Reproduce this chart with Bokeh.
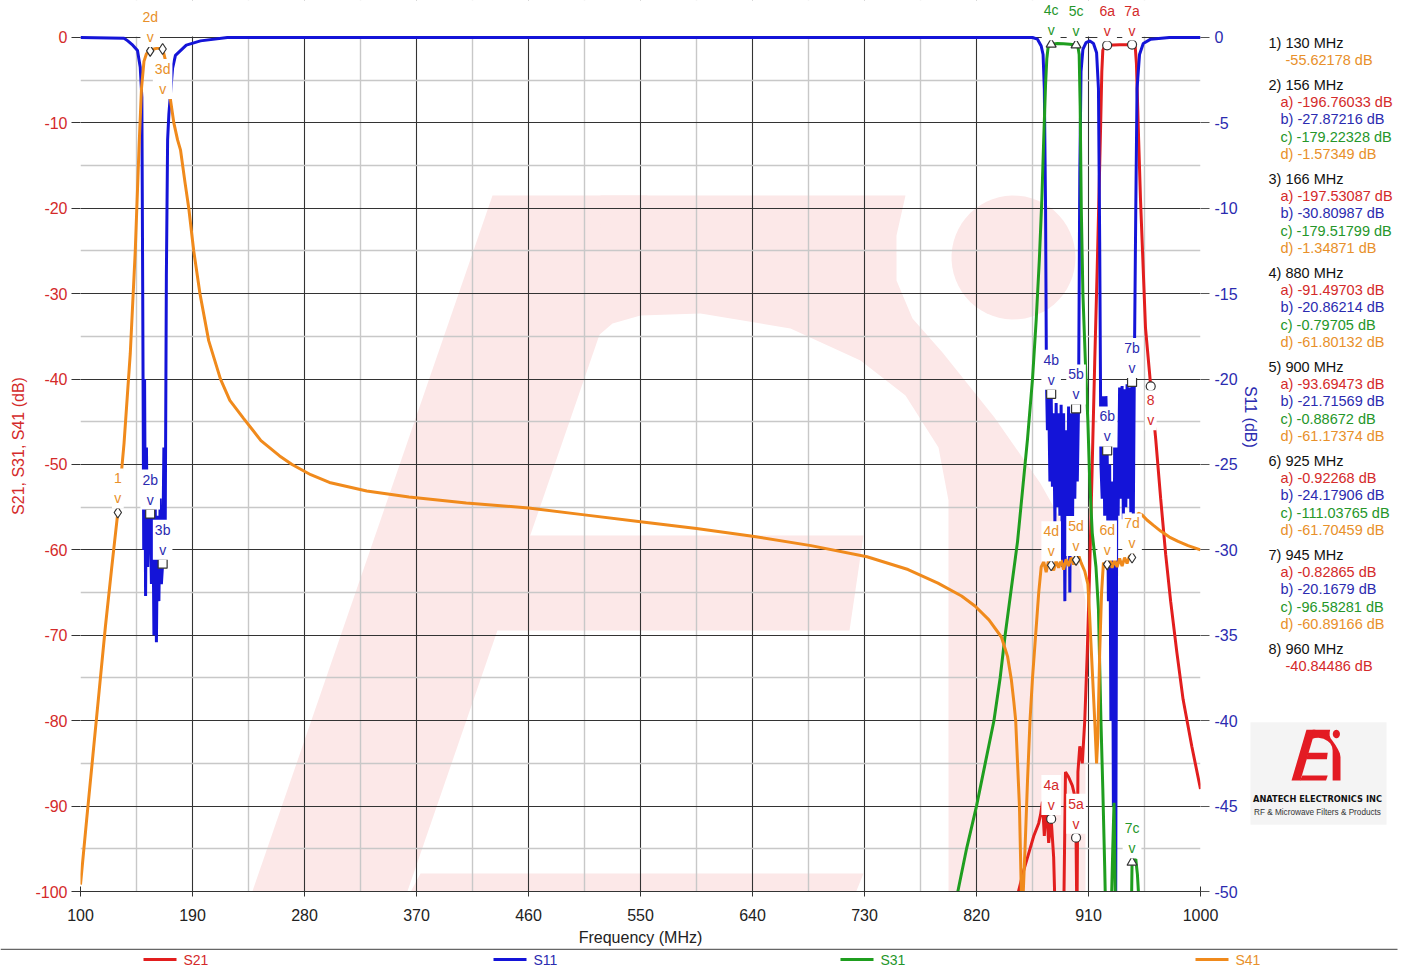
import numpy as np
from bokeh.plotting import figure
from bokeh.layouts import column, row
from bokeh.models import (Range1d, LinearAxis, FixedTicker, Label, BoxAnnotation,
                          PolyAnnotation, PrintfTickFormatter)
from bokeh.core.properties import value
from bokeh.embed import file_html
from bokeh.resources import INLINE

FONT = "Liberation Sans"
C21, C11, C31, C41 = "#e21e1e", "#1414d8", "#1f9e1f", "#f08a1c"
T21, T11, T31, T41 = "#d42a2a", "#2b2bb0", "#25962a", "#e8902a"
LINE_COL = {"S21": C21, "S11": C11, "S31": C31, "S41": C41}
TEXT_COL = {"S21": T21, "S11": T11, "S31": T31, "S41": T41}

# ---------------- data ----------------
# S41 (left axis, dB)
f41 = [100, 105, 110, 115, 120, 125, 130, 135, 140, 144, 147, 149, 151, 153, 156, 159, 162, 164, 166,
       168, 170, 172, 175, 178, 180.4, 184, 187, 191, 196, 203, 212.5, 220, 231, 245, 260, 270, 285,
       300, 330, 364, 410, 460, 505, 550, 595, 640, 687, 732, 765, 789, 808, 819, 830, 840, 845, 848,
       850, 851.5, 853, 854.5, 856, 856.8, 857.6, 859, 861, 863, 865, 867.5, 870, 872, 874, 876, 878,
       880, 882, 884, 886, 888, 890, 892, 894, 896, 898, 900, 902, 904, 907, 909.5, 911, 913, 915,
       916.5, 917.5, 919, 920.5, 922, 923.5, 925, 927, 929, 931, 933, 935, 937, 939, 941, 943, 945,
       946.5, 948, 950, 953, 957, 962, 968, 975, 982, 990, 1000]
s41 = [-99.2, -91.5, -84, -76.5, -69, -62.2, -55.6, -47.5, -37, -25, -13, -6, -2.8, -1.9, -1.57,
       -1.35, -1.25, -1.3, -1.35, -2.5, -4.5, -7, -10, -12, -13.2, -17, -20, -25, -30, -35.5, -40,
       -42.5, -44.6, -47.2, -49, -50, -51.2, -52.1, -53.1, -53.8, -54.5, -55.1, -55.9, -56.7, -57.5,
       -58.4, -59.5, -60.8, -62.3, -63.9, -65.4, -66.6, -68.2, -70.2, -72.5, -75.2, -77.8, -80, -85,
       -90, -100, -106, -100, -95, -87, -80, -75, -70, -65, -62, -61.4, -62.6, -61.2, -61.8, -62.4,
       -61.3, -62.1, -61.2, -62.3, -61.1, -61.9, -60.9, -61.7, -61.17, -60.6, -61.5, -62.5, -64, -68,
       -74, -80, -85, -82, -72, -65, -61.5, -62, -61.7, -61.0, -62.1, -61.2, -62.0, -61.0, -61.9,
       -60.9, -61.6, -60.7, -60.89, -59.5, -57, -55.7, -55.9, -56.5, -57.1, -57.8, -58.5, -59, -59.5,
       -60]

# S11 (right axis, dB)
f11 = [100, 135, 138, 142, 145.8, 148, 149.3, 150, 150.8, 151.5, 152.3, 153, 154, 155, 156, 157, 158,
       159, 160, 161, 162, 163, 164, 165, 166, 167, 168, 169, 170, 171, 172.3, 174, 176.3, 185, 196.4,
       218, 860, 865, 869, 872, 873.5, 874.5, 875.5, 876.2, 877, 878, 879, 880, 881, 882, 883, 884,
       885, 886, 887, 888, 889, 890, 891, 892, 893, 894, 895, 896, 897, 898, 899, 900, 901, 902,
       903, 904, 905.5, 908, 911, 914, 916.5, 918, 919, 920, 921, 922, 923, 924, 925, 926, 927, 928,
       929, 930, 931, 931.8, 932.8, 933.8, 935, 936, 937, 938, 939, 940, 941, 942, 943, 944, 945,
       946, 947, 948, 949, 951, 954, 960, 975, 1000]
s11 = [0, -0.05, -0.2, -0.45, -0.76, -1.75, -3.5, -15, -30, -20, -32.7, -24, -31, -26, -27.87, -32,
       -26, -35, -27, -35.4, -28, -33, -27, -32, -30.81, -24, -30, -14, -6, -4.5, -3.3, -1.8, -1.05,
       -0.45, -0.2, 0, 0, 0, -0.1, -0.5, -1, -3, -10, -20, -23, -21, -26, -20.86, -26.3, -22, -28.4,
       -21.4, -27.5, -22, -28, -21.5, -31, -22, -33, -23, -30, -21.6, -32.5, -22, -30, -21.2, -27,
       -21.72, -26, -21.5, -8, -2, -0.7, -0.3, -0.2, -0.35, -0.9, -3, -12, -25, -27, -21, -28, -21,
       -24.18, -33, -25, -40, -26, -45, -24, -52, -24, -28, -20.5, -27, -20.4, -28.2, -20.6, -27.5,
       -20.3, -27, -20.5, -27.8, -20.17, -28, -18, -10, -3, -1, -0.35, -0.1, 0, 0]

# S31 (left axis, dB)
f31 = [800, 805, 812, 820, 827, 834, 839, 843, 848, 853, 857, 861, 865, 868, 870.5, 872.5, 874, 875.5,
       876.5, 877.5, 880, 885, 890, 895, 900, 901.5, 902.5, 903.3, 904.2, 905.5, 907.5, 909.5, 911,
       913, 916, 918, 920, 921.5, 923, 924, 928, 929.5, 930.5, 931.5, 932.3, 944, 945, 948, 949.3,
       950.5, 952]
s31 = [-104, -100, -95, -90, -85, -80, -75, -70, -64.5, -59, -53, -47, -40, -33, -26, -19, -12, -5.5,
       -2.5, -1.2, -0.8, -0.72, -0.75, -0.8, -0.89, -1.1, -2, -8, -20, -30, -38, -45, -52, -58, -62,
       -67, -80, -88, -97, -104, -104, -95, -89.6, -100, -108, -108, -96.58, -96.2, -98, -101, -108]

# S21 (left axis, dB)
f21 = [850, 853.7, 858, 862, 866, 870, 871.5, 873, 874.5, 876, 878, 880, 882, 883.5, 890, 891.5, 894,
       897, 899.3, 900, 900.7, 901.5, 903, 905, 907, 909, 911, 913, 915, 917, 918.5, 919.8, 920.7,
       921.5, 923, 925, 930, 935, 940, 945, 947.5, 948.5, 949.5, 950.3, 951.8, 955.8, 960, 964, 968,
       972, 976, 981, 986, 993, 1000]
s21 = [-104, -100, -97.5, -95.5, -93.5, -92, -91, -89.5, -93.5, -89.5, -94.3, -91.5, -96, -104, -104,
       -86, -86.6, -87.6, -89, -93.69, -104, -86, -83, -85, -80, -72, -62, -50, -38, -27, -18, -10,
       -4, -1.5, -1.0, -0.92, -0.88, -0.85, -0.84, -0.83, -1.0, -3, -8, -12, -19, -34, -40.84, -47,
       -54, -60.5, -66, -72, -77.5, -83, -88]

# marker readout table
mk_ids = [1, 2, 3, 4, 5, 6, 7, 8]
mk_mhz = [130, 156, 166, 880, 900, 925, 945, 960]
read_a = [None, "-196.76033", "-197.53087", "-91.49703", "-93.69473", "-0.92268", "-0.82865", None]
read_b = [None, "-27.87216", "-30.80987", "-20.86214", "-21.71569", "-24.17906", "-20.1679", None]
read_c = [None, "-179.22328", "-179.51799", "-0.79705", "-0.88672", "-111.03765", "-96.58281", None]
read_d = [None, "-1.57349", "-1.34871", "-61.80132", "-61.17374", "-61.70459", "-60.89166", None]
read_single = ["-55.62178", None, None, None, None, None, None, "-40.84486"]
single_series = ["S41", None, None, None, None, None, None, "S21"]

# markers shown on the chart
on_names = ["1", "2b", "2d", "3b", "3d", "4a", "4b", "4c", "4d", "5a", "5b", "5c", "5d",
            "6a", "6b", "6d", "7a", "7b", "7c", "7d", "8"]
on_freq = [130, 156, 156, 166, 166, 880, 880, 880, 880, 900, 900, 900, 900,
           925, 925, 925, 945, 945, 945, 945, 960]
on_val = [-55.62178, -27.87216, -1.57349, -30.80987, -1.34871, -91.49703, -20.86214, -0.79705,
          -61.80132, -93.69473, -21.71569, -0.88672, -61.17374, -0.92268, -24.17906, -61.70459,
          -0.82865, -20.1679, -96.58281, -60.89166, -40.84486]
on_series = ["S41", "S11", "S41", "S11", "S41", "S21", "S11", "S31", "S41", "S21", "S11", "S31",
             "S41", "S21", "S11", "S41", "S21", "S11", "S31", "S41", "S21"]
labels_below = {"3d": -10, "8": -4}

legend_names = ["S21", "S11", "S31", "S41"]

x_ticks = [100, 190, 280, 370, 460, 550, 640, 730, 820, 910, 1000]
y_ticks = [-100, -90, -80, -70, -60, -50, -40, -30, -20, -10, 0]
y2_ticks = [-50, -45, -40, -35, -30, -25, -20, -15, -10, -5, 0]

# ---------------- main figure ----------------
TOP_DB = 37 / 8.55          # frame extends 37 px above the 0 dB line (room for marker tags)
MW, MH = 1241, 948
p = figure(width=MW, height=MH, x_range=Range1d(100, 1000), y_range=Range1d(-100, TOP_DB),
           output_backend="svg", toolbar_location=None,
           min_border_left=80, min_border_right=MW - 1200, min_border_top=0, min_border_bottom=56,
           background_fill_color="white", border_fill_color="white", outline_line_color=None)
p.extra_y_ranges = {"s11": Range1d(-50, TOP_DB / 2)}

# ---- watermark (page pixel geometry of the faint logo) ----
WM = "#fce8e8"


def stem_l(y):
    return 492 - 0.345 * (y - 195)


wm_polys = [
    [(stem_l(195), 195), (stem_l(195) + 155, 195), (stem_l(947) + 155, 947), (stem_l(947), 947)],
    [(600, 195), (905, 195), (896, 235), (896, 280), (912, 318), (942, 352), (994, 417), (1040, 483),
     (1075, 545), (1085, 600), (1085, 947), (948, 947), (948, 500), (938, 447), (905, 395),
     (860, 360), (790, 328), (700, 313), (640, 315), (612, 323), (598, 335)],
    [(520, 535), (863, 535), (849, 630), (490, 630)],
    [(420, 873), (863, 873), (833, 947), (380, 947)],
]
th = np.linspace(0, 2 * np.pi, 60)
wm_polys.append([(1013 + 62 * np.cos(t), 257 + 62 * np.sin(t)) for t in th])

for poly in wm_polys:
    p.add_layout(PolyAnnotation(xs=[a for a, b in poly], ys=[b for a, b in poly],
                                xs_units="canvas", ys_units="canvas", fill_color=WM, fill_alpha=1,
                                line_color=None, level="image"))

# ---- axes & grid ----
xt = FixedTicker(ticks=x_ticks, minor_ticks=[t + 45 for t in x_ticks[:-1]])
yt = FixedTicker(ticks=y_ticks, minor_ticks=[t + 5 for t in y_ticks[:-1]])
xa = p.xaxis[0]
xa.ticker = xt
ya = p.yaxis[0]
ya.ticker = yt
p.xgrid.ticker = xt
p.ygrid.ticker = yt
for g in (p.xgrid[0], p.ygrid[0]):
    g.grid_line_color = "#333333"
    g.grid_line_width = 1.1
    g.minor_grid_line_color = "#c8c8c8"
    g.minor_grid_line_width = 1.4

# white cover above the 0 dB line (hides grid there)
p.add_layout(BoxAnnotation(bottom=0.12, fill_color="white", fill_alpha=1, line_color=None,
                           level="underlay"))

xa.axis_label = "Frequency (MHz)"
xa.formatter = PrintfTickFormatter(format="%d")
xa.axis_label_text_font = FONT
xa.axis_label_text_font_size = "16px"
xa.axis_label_text_font_style = "normal"
xa.axis_label_text_color = "#222222"
xa.axis_label_standoff = 5
xa.major_label_text_font = FONT
xa.major_label_text_font_size = "16px"
xa.major_label_text_color = "#222222"
xa.major_label_standoff = 12
xa.major_tick_in = 5
xa.major_tick_out = 5
xa.minor_tick_line_color = None
xa.axis_line_color = "#333333"
xa.major_tick_line_color = "#333333"

ya.axis_label = "S21, S31, S41 (dB)"
ya.formatter = PrintfTickFormatter(format="%d")
ya.axis_label_text_font = FONT
ya.axis_label_text_font_size = "16px"
ya.axis_label_text_font_style = "normal"
ya.axis_label_text_color = T21
ya.axis_label_standoff = 5
ya.major_label_text_font = FONT
ya.major_label_text_font_size = "16px"
ya.major_label_text_color = T21
ya.major_label_standoff = 4
ya.major_tick_in = 0
ya.major_tick_out = 9
ya.minor_tick_line_color = None
ya.axis_line_color = None
ya.major_tick_line_color = "#333333"

ra = LinearAxis(y_range_name="s11", ticker=FixedTicker(ticks=y2_ticks),
                formatter=PrintfTickFormatter(format="%d"))
ra.major_label_text_font = FONT
ra.major_label_text_font_size = "16px"
ra.major_label_text_color = T11
ra.major_label_standoff = 5
ra.major_tick_in = 0
ra.major_tick_out = 9
ra.minor_tick_line_color = None
ra.axis_line_color = None
ra.major_tick_line_color = "#555555"
p.add_layout(ra, "right")

# ---- curves ----
LW = 3
p.line(f21, s21, line_color=C21, line_width=LW)
p.line(f11, s11, line_color=C11, line_width=LW, y_range_name="s11")
p.line(f31, s31, line_color=C31, line_width=LW)
p.line(f41, s41, line_color=C41, line_width=LW)

# ---- markers ----
MARK = {"S21": ("circle", 9), "S11": ("square", 9), "S31": ("triangle", 10), "S41": ("diamond", 11)}
for ser in ["S21", "S11", "S31", "S41"]:
    xs = [f for f, s in zip(on_freq, on_series) if s == ser]
    ys = [v for v, s in zip(on_val, on_series) if s == ser]
    kw = {"y_range_name": "s11"} if ser == "S11" else {}
    p.scatter(xs, ys, marker=MARK[ser][0], size=MARK[ser][1], fill_color="white",
              line_color="#333333", line_width=1.2, **kw)

for name, f, v, ser in zip(on_names, on_freq, on_val, on_series):
    below = name in labels_below
    kw = {"y_range_name": "s11"} if ser == "S11" else {}
    p.add_layout(Label(x=f, y=v, text=name + "\nv", text_align="center",
                       text_baseline="top" if below else "bottom",
                       y_offset=labels_below[name] if below else 4, text_font=FONT,
                       text_font_size="14px", text_line_height=1.25,
                       text_color=TEXT_COL[ser], background_fill_color="white",
                       background_fill_alpha=1, padding=2, **kw))

# ---------------- side panel: S11 title, readout table, logo ----------------
SW = 1405 - MW
side = figure(width=SW, height=MH, x_range=Range1d(MW, 1405), y_range=Range1d(MH, 0),
              output_backend="svg", toolbar_location=None, min_border=0,
              x_axis_location=None, y_axis_location=None, outline_line_color=None,
              background_fill_color="white", border_fill_color="white")
side.grid.visible = False

side.text(x=[1250], y=[443], text=["S11 (dB)"], angle=-np.pi / 2, text_color=T11,
          text_font=value(FONT), text_font_size=value("16px"), text_baseline="middle",
          text_align="center")

tx, ty, tt, tc = [], [], [], []
head_y = [45, 90, 190, 290, 390, 490, 590, 690]
for i, (mid, mhz) in enumerate(zip(mk_ids, mk_mhz)):
    y0 = head_y[i]
    tx.append(1268); ty.append(y0); tt.append(f"{mid}) {mhz} MHz"); tc.append("#111111")
    if read_single[i] is not None:
        tx.append(1285); ty.append(y0 + 18); tt.append(f"{read_single[i]} dB")
        tc.append(TEXT_COL[single_series[i]])
    else:
        rows = [("a", read_a[i], "S21"), ("b", read_b[i], "S11"), ("c", read_c[i], "S31"),
                ("d", read_d[i], "S41")]
        for k, (lt, val, ser) in enumerate(rows):
            tx.append(1280); ty.append(y0 + 18.3 * (k + 1)); tt.append(f"{lt}) {val} dB")
            tc.append(TEXT_COL[ser])
side.text(x=tx, y=ty, text=tt, text_color=tc, text_font=value(FONT),
          text_font_size=value("14.5px"), text_baseline="middle", text_align="left")

# logo
side.quad(left=[1250], right=[1386], top=[768], bottom=[877], fill_color="#f4f4f4",
          line_color=None)
sx = (1340 - 1291) / (1085 - 232)
sy = (830 - 776) / (947 - 195)
side.patches([[1291 + (a - 232) * sx for a, b in poly] for poly in wm_polys],
             [[776 + (b - 195) * sy for a, b in poly] for poly in wm_polys],
             fill_color="#e31b23", line_color=None)
side.text(x=[1317], y=[849], text=["ANATECH ELECTRONICS INC"], text_color="#111111",
          text_font=value("DejaVu Sans Condensed"), text_font_style="bold",
          text_font_size=value("9.2px"), text_baseline="middle", text_align="center")
side.text(x=[1317], y=[864], text=["RF & Microwave Filters & Products"], text_color="#333333",
          text_font=value(FONT), text_font_size=value("8.2px"), text_baseline="middle",
          text_align="center")

# ---------------- bottom legend strip ----------------
leg = figure(width=1405, height=968 - MH, x_range=Range1d(0, 1405), y_range=Range1d(968, MH),
             output_backend="svg", toolbar_location=None, min_border=0,
             x_axis_location=None, y_axis_location=None, outline_line_color=None,
             background_fill_color="white", border_fill_color="white")
leg.grid.visible = False
leg.quad(left=[0], right=[1397], top=[MH], bottom=[MH + 1.5], fill_color="#666666",
         line_color=None)
leg_x = [143, 493, 840, 1195]
leg.segment(x0=leg_x, y0=[959] * 4, x1=[v + 33 for v in leg_x], y1=[959] * 4,
            line_color=[LINE_COL[n] for n in legend_names], line_width=3)
leg.text(x=[v + 40 for v in leg_x], y=[959] * 4, text=legend_names,
         text_color=[TEXT_COL[n] for n in legend_names], text_font=value(FONT),
         text_font_size=value("14px"), text_baseline="middle", text_align="left")

layout = column(row(p, side), leg)
open("out.html", "w").write(file_html(layout, INLINE))
